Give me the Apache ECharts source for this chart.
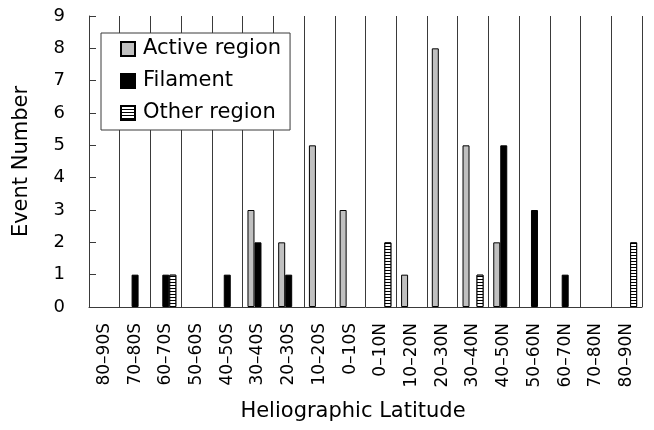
<!DOCTYPE html>
<html>
<head>
<meta charset="utf-8">
<script src="https://cdn.jsdelivr.net/npm/echarts@6/dist/echarts.min.js"></script>
<style>
  html, body { margin: 0; padding: 0; background: #fff; }
  #chart { width: 654px; height: 430px; }
</style>
</head>
<body>
<div id="chart"></div>
<script>
// latitude bins, south to north
var latitudes = ['80–90S', '70–80S', '60–70S', '50–60S', '40–50S', '30–40S', '20–30S', '10–20S', '0–10S',
                 '0–10N', '10–20N', '20–30N', '30–40N', '40–50N', '50–60N', '60–70N', '70–80N', '80–90N'];
var activeRegion = [0, 0, 0, 0, 0, 3, 2, 5, 3, 0, 1, 8, 5, 2, 0, 0, 0, 0];
var filament     = [0, 1, 1, 0, 1, 2, 1, 0, 0, 0, 0, 0, 0, 5, 3, 1, 0, 0];
var otherRegion  = [0, 0, 1, 0, 0, 0, 0, 0, 0, 2, 0, 0, 1, 0, 0, 0, 0, 2];

var FONT = '"DejaVu Sans", sans-serif';
var AXIS = '#3a3a3a';

// zero counts are left empty so no stub bar is drawn
function nz(arr) {
    return arr.map(function (v) { return v === 0 ? '-' : v; });
}

var chart = echarts.init(document.getElementById('chart'));

var option = {
    backgroundColor: '#fff',
    animation: false,
    textStyle: { fontFamily: FONT, color: '#000' },
    title: {
        text: 'Heliographic Latitude',
        left: 353,
        top: 401,
        textAlign: 'center',
        padding: 0,
        textStyle: { fontFamily: FONT, fontSize: 21, fontWeight: 'normal', color: '#000' }
    },
    legend: {
        orient: 'vertical',
        left: 101,
        top: 33,
        padding: [5, 9, 6, 19],
        icon: 'rect',
        itemWidth: 14,
        itemHeight: 14,
        itemGap: 10,
        backgroundColor: '#fff',
        borderColor: AXIS,
        borderWidth: 1,
        textStyle: { fontFamily: FONT, fontSize: 21, lineHeight: 22, color: '#000', padding: [0, 0, 0, 3] },
        data: ['Active region', 'Filament', 'Other region']
    },
    grid: { left: 89, right: 12, top: 16, bottom: 123 },
    xAxis: {
        type: 'category',
        data: latitudes,
        axisLine: { lineStyle: { color: AXIS, width: 1 } },
        axisTick: { show: false },
        splitLine: { show: true, lineStyle: { color: AXIS, width: 1 } },
        axisLabel: {
            rotate: 90,
            margin: 16,
            interval: 0,
            fontSize: 17,
            fontFamily: FONT,
            color: '#000'
        }
    },
    yAxis: {
        type: 'value',
        min: 0,
        max: 9,
        interval: 1,
        name: 'Event Number',
        nameLocation: 'middle',
        nameGap: 57,
        nameTextStyle: { fontFamily: FONT, fontSize: 21, color: '#000' },
        axisLine: { show: true, lineStyle: { color: AXIS, width: 1 } },
        axisTick: { show: true, inside: true, length: 7, lineStyle: { color: AXIS } },
        splitLine: { show: false },
        axisLabel: { fontSize: 18, fontFamily: FONT, color: '#000', margin: 24 }
    },
    series: [
        {
            name: 'Active region',
            type: 'bar',
            barWidth: 7,
            barGap: '0%',
            data: nz(activeRegion),
            itemStyle: { color: '#c0c0c0', borderColor: '#000', borderWidth: 1 }
        },
        {
            name: 'Filament',
            type: 'bar',
            barWidth: 7,
            barGap: '0%',
            data: nz(filament),
            itemStyle: { color: '#000', borderColor: '#000', borderWidth: 1 }
        },
        {
            name: 'Other region',
            type: 'bar',
            barWidth: 7,
            barGap: '0%',
            data: nz(otherRegion),
            itemStyle: {
                color: '#fff',
                borderColor: '#000',
                borderWidth: 1,
                decal: {
                    symbol: 'rect',
                    symbolSize: 1,
                    color: '#000',
                    backgroundColor: '#fff',
                    dashArrayX: [1, 0],
                    dashArrayY: [1, 2],
                    rotation: 0
                }
            }
        }
    ]
};

chart.setOption(option);
</script>
</body>
</html>
